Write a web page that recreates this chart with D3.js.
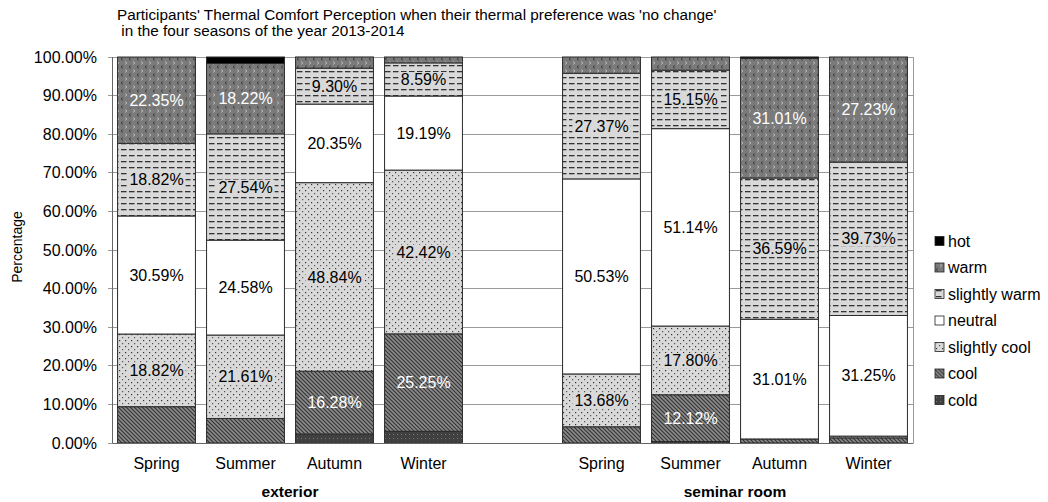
<!DOCTYPE html>
<html>
<head>
<meta charset="utf-8">
<script src="https://cdn.jsdelivr.net/npm/d3@7"></script>
<style>
  body { margin: 0; background: #fff; }
  svg { font-family: "Liberation Sans", Arial, sans-serif; }
</style>
</head>
<body>
<svg width="1048" height="502"></svg>
<script>
// categories (the empty slot separates the two groups)
const categories = ["ext-Spring", "ext-Summer", "ext-Autumn", "ext-Winter", "gap",
  "sem-Spring", "sem-Summer", "sem-Autumn", "sem-Winter"];
const barCategories = ["ext-Spring", "ext-Summer", "ext-Autumn", "ext-Winter",
  "sem-Spring", "sem-Summer", "sem-Autumn", "sem-Winter"];
const seasonLabels = ["Spring", "Summer", "Autumn", "Winter", "",
  "Spring", "Summer", "Autumn", "Winter"];
const groupLabels = ["exterior", "seminar room"];
const groupMembers = [["ext-Spring", "ext-Winter"], ["sem-Spring", "sem-Winter"]];

// series, bottom to top (percent)
const cold = [0, 0, 2.33, 3.03, 0, 0.38, 0, 0];
const cool = [9.41, 6.36, 16.28, 25.25, 4.21, 12.12, 1.05, 1.34];
const slightlyCool = [18.82, 21.61, 48.84, 42.42, 13.68, 17.80, 0, 0.45];
const neutral = [30.59, 24.58, 20.35, 19.19, 50.53, 51.14, 31.01, 31.25];
const slightlyWarm = [18.82, 27.54, 9.30, 8.59, 27.37, 15.15, 36.59, 39.73];
const warm = [22.35, 18.22, 2.91, 1.52, 4.21, 3.41, 31.01, 27.23];
const hot = [0, 1.69, 0, 0, 0, 0, 0.35, 0];

const yTicks = [0, 10, 20, 30, 40, 50, 60, 70, 80, 90, 100];

const seriesNames = ["cold", "cool", "slightly cool", "neutral", "slightly warm", "warm", "hot"];
const seriesValues = [cold, cool, slightlyCool, neutral, slightlyWarm, warm, hot];

const svg = d3.select("svg");

const margin = { left: 112, right: 135, top: 57, bottom: 59 };
const chartWidth = 1048 - margin.left - margin.right;
const chartHeight = 502 - margin.top - margin.bottom;

const chartGroup = svg.append("g")
  .attr("transform", `translate(${margin.left}, ${margin.top})`);

const xScaler = d3.scaleBand().domain(categories).range([0, chartWidth])
  .paddingInner(0.125).paddingOuter(0.0625);
const yScaler = d3.scaleLinear().domain([0, 100]).range([chartHeight, 0]);

// patterns
const defs = svg.append("defs");
function pattern(id, w, h, bg, draw) {
  const p = defs.append("pattern").attr("id", id)
    .attr("patternUnits", "userSpaceOnUse").attr("width", w).attr("height", h);
  p.append("rect").attr("width", w).attr("height", h).attr("fill", bg);
  draw(p);
}
pattern("pCold", 4, 4, "#404040", p => {
  p.append("rect").attr("x", 1).attr("y", 1).attr("width", 1).attr("height", 1).attr("fill", "#777");
});
pattern("pCool", 4, 4, "#8a8a8a", p => {
  p.append("path").attr("d", "M0,0 L4,4 M-1,3 L1,5 M3,-1 L5,1")
    .attr("stroke", "#333").attr("stroke-width", 1.1);
});
pattern("pSlCool", 6, 6, "#d9d9d9", p => {
  p.append("rect").attr("x", 1).attr("y", 1).attr("width", 1.2).attr("height", 1.2).attr("fill", "#333");
  p.append("rect").attr("x", 4).attr("y", 4).attr("width", 1.2).attr("height", 1.2).attr("fill", "#555");
});
pattern("pSlWarm", 8, 6, "#d9d9d9", p => {
  p.append("rect").attr("x", 1).attr("y", 2).attr("width", 5.5).attr("height", 1.3).attr("fill", "#333");
});
pattern("pWarm", 8, 8, "#7a7a7a", p => {
  p.append("path").attr("d", "M3,0.5 L1,2 L3,3.5").attr("fill", "none")
    .attr("stroke", "#3a3a3a").attr("stroke-width", 0.9);
  p.append("path").attr("d", "M5,4.5 L7,6 L5,7.5").attr("fill", "none")
    .attr("stroke", "#bbb").attr("stroke-width", 0.9);
});
const fills = ["url(#pCold)", "url(#pCool)", "url(#pSlCool)", "#fff",
  "url(#pSlWarm)", "url(#pWarm)", "#000"];
// plain patch behind labels (none for the hatched "cool" segments)
const labelBacks = ["none", "none", "#d9d9d9", "#fff", "#d9d9d9", "#7a7a7a", "#000"];
const labelColors = ["#fff", "#fff", "#000", "#000", "#000", "#fff", "#fff"];

// gridlines
chartGroup.append("g").selectAll("line").data(yTicks).join("line")
  .attr("x1", -4).attr("x2", chartWidth)
  .attr("y1", d => yScaler(d)).attr("y2", d => yScaler(d))
  .attr("stroke", "#9a9a9a").attr("stroke-width", 1)
  .attr("shape-rendering", "crispEdges");
chartGroup.append("line")
  .attr("x1", chartWidth).attr("x2", chartWidth).attr("y1", 0).attr("y2", chartHeight)
  .attr("stroke", "#9a9a9a").attr("shape-rendering", "crispEdges");

// stacked data
const table = barCategories.map((c, i) => {
  const row = { cat: c };
  seriesNames.forEach((s, j) => { row[s] = seriesValues[j][i]; });
  return row;
});
const stacked = d3.stack().keys(seriesNames)(table);

const barGroup = chartGroup.append("g");
stacked.forEach((layer, j) => {
  barGroup.append("g").selectAll("rect").data(layer.filter(d => d[1] - d[0] > 0)).join("rect")
    .attr("x", d => xScaler(d.data.cat))
    .attr("width", xScaler.bandwidth())
    .attr("y", d => yScaler(d[1]))
    .attr("height", d => yScaler(d[0]) - yScaler(d[1]))
    .attr("fill", fills[j])
    .attr("stroke", "#2a2a2a").attr("stroke-width", 1);
});

// value labels
stacked.forEach((layer, j) => {
  const minShown = seriesNames[j] === "cool" ? 10 : 8;
  const g = barGroup.append("g").selectAll("g")
    .data(layer.filter(d => d[1] - d[0] >= minShown)).join("g")
    .attr("transform", d => `translate(${xScaler(d.data.cat) + xScaler.bandwidth() / 2}, ${yScaler((d[0] + d[1]) / 2)})`);
  const bg = g.append("rect").attr("fill", labelBacks[j]);
  const txt = g.append("text")
    .attr("dy", "0.35em")
    .attr("text-anchor", "middle")
    .attr("font-size", 16)
    .attr("fill", labelColors[j])
    .text(d => (d[1] - d[0]).toFixed(2) + "%");
  bg.each(function (d, i) {
    const b = txt.nodes()[i].getBBox();
    d3.select(this).attr("x", b.x - 2).attr("y", b.y + 1)
      .attr("width", b.width + 4).attr("height", b.height - 2);
  });
});

// axes
const yAxisGroup = chartGroup.append("g");
yAxisGroup.call(d3.axisLeft(yScaler).tickValues(yTicks)
  .tickFormat(d => d.toFixed(2) + "%"));
yAxisGroup.select(".domain").remove();
yAxisGroup.selectAll("line").remove();
yAxisGroup.selectAll("text").attr("font-size", 16).attr("fill", "#000")
  .attr("font-family", "Liberation Sans, Arial, sans-serif").attr("x", -15);
chartGroup.append("line").attr("x1", 0).attr("x2", 0).attr("y1", 0).attr("y2", chartHeight)
  .attr("stroke", "#666").attr("shape-rendering", "crispEdges");

const xAxisGroup = chartGroup.append("g").attr("transform", `translate(0, ${chartHeight})`);
xAxisGroup.call(d3.axisBottom(xScaler).tickSize(0).tickPadding(15)
  .tickFormat((d, i) => seasonLabels[i]));
xAxisGroup.select(".domain").attr("stroke", "#666");
xAxisGroup.selectAll("text").attr("font-size", 16).attr("fill", "#000")
  .attr("font-family", "Liberation Sans, Arial, sans-serif");

// group labels, centred under their four bars
chartGroup.append("g").selectAll("text").data(groupLabels).join("text")
  .attr("x", (d, i) => {
    const [a, b] = groupMembers[i];
    return (xScaler(a) + xScaler(b) + xScaler.bandwidth()) / 2;
  })
  .attr("y", chartHeight + 54)
  .attr("text-anchor", "middle")
  .attr("font-size", 15.5)
  .attr("font-weight", "bold")
  .text(d => d);

// title
const title = svg.append("text").attr("font-size", 15.3).attr("x", 117);
title.append("tspan").attr("x", 117).attr("y", 20)
  .text("Participants' Thermal Comfort Perception when their thermal preference was 'no change'");
title.append("tspan").attr("x", 117).attr("y", 36)
  .text("\u00a0in the four seasons of the year 2013-2014");

// y label
svg.append("text")
  .attr("transform", "translate(22, 247) rotate(-90)")
  .attr("text-anchor", "middle")
  .attr("font-size", 14)
  .text("Percentage");

// legend (top to bottom: hot ... cold)
const legendItems = seriesNames.map((s, j) => ({ name: s, fill: fills[j] })).reverse();
const legend = svg.append("g").attr("transform", "translate(935, 241)");
const item = legend.selectAll("g").data(legendItems).join("g")
  .attr("transform", (d, i) => `translate(0, ${i * 26.5})`);
item.append("rect").attr("x", 0).attr("y", -4.5).attr("width", 9).attr("height", 9)
  .attr("fill", d => d.fill).attr("stroke", "#222").attr("stroke-width", 0.8);
item.append("text").attr("x", 13).attr("dy", "0.36em").attr("font-size", 16)
  .text(d => d.name);
</script>
</body>
</html>
